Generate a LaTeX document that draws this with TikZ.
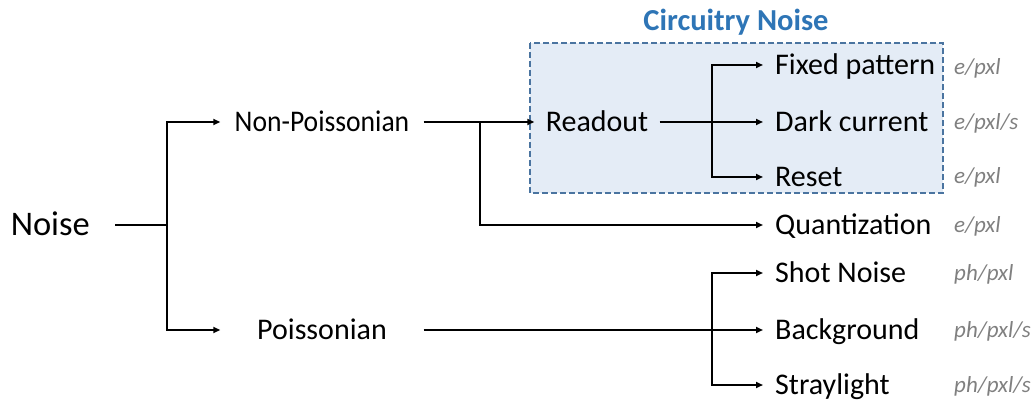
\documentclass[tikz,border=0pt]{standalone}
\usepackage{fontspec}
\setmainfont{Carlito}
\usetikzlibrary{arrows.meta}
\definecolor{boxfill}{RGB}{228,236,246}
\definecolor{boxline}{RGB}{74,116,160}
\definecolor{titleblue}{RGB}{46,117,182}
\definecolor{unitgray}{RGB}{128,128,128}
\begin{document}
\begin{tikzpicture}[x=1pt,y=-1pt,
  lbl/.style={font=\fontsize{30}{32}\selectfont, inner sep=0pt, text height=19pt, text depth=0pt},
  leaf/.style={lbl, anchor=west, inner xsep=12pt},
  unit/.style={font=\fontsize{23}{25}\selectfont\itshape, text=unitgray, anchor=west, inner sep=0pt, text height=15pt, text depth=0pt},
  conn/.style={line width=2.2pt},
  arr/.style={conn, -{Triangle[length=7pt,width=6pt]}}]
\useasboundingbox (0,0) rectangle (1033,403);
% circuitry box
\draw[boxline, dash pattern=on 6pt off 3pt, line width=2pt, fill=boxfill] (530,43) rectangle (943,193);
\node[font=\fontsize{30.5}{32}\selectfont\bfseries, text=titleblue, inner sep=0pt, text height=19.5pt, text depth=0pt] (title) at (736,21) {Circuitry Noise};
% main nodes
\node[lbl, font=\fontsize{34.5}{36}\selectfont, text height=22pt, anchor=east, inner xsep=25pt] (noise) at (115,225) {Noise};
\node[lbl, minimum width=203pt] (nonp) at (322,122) {\scalebox{0.92}[1]{Non-Poissonian}};
\node[lbl, minimum width=203pt] (pois) at (322,330) {Poissonian};
\node[lbl, minimum width=125pt] (readout) at (597,122) {Readout};
% leaves
\node[leaf] (fixed) at (763,65) {Fixed pattern};
\node[leaf] (dark) at (763,122) {Dark current};
\node[leaf] (reset) at (763,177) {Reset};
\node[leaf] (quant) at (763,225) {Quantization};
\node[leaf] (shot) at (763,273) {Shot Noise};
\node[leaf] (bg) at (763,330) {Background};
\node[leaf] (stray) at (763,385) {Straylight};
% units
\node[unit] (u1) at (954,67) {e/pxl};
\node[unit] (u2) at (954,122) {e/pxl/s};
\node[unit] (u3) at (954,176) {e/pxl};
\node[unit] (u4) at (954,225) {e/pxl};
\node[unit] (u5) at (954,273) {ph/pxl};
\node[unit] (u6) at (954,330) {ph/pxl/s};
\node[unit] (u7) at (954,385) {ph/pxl/s};
% junctions
\coordinate (j1) at (167,225);
\coordinate (j2) at (480,122);
\coordinate (j3) at (712,122);
\coordinate (j4) at (712,330);
% connectors
\draw[conn] (noise.east) -- (j1);
\draw[arr] (j1) |- (nonp.west);
\draw[arr] (j1) |- (pois.west);
\draw[arr] (nonp.east) -- (readout.west);
\draw[arr] (j2) |- (quant.west);
\draw[arr] (readout.east) -- (dark.west);
\draw[arr] (j3) |- (fixed.west);
\draw[arr] (j3) |- (reset.west);
\draw[arr] (pois.east) -- (bg.west);
\draw[arr] (j4) |- (shot.west);
\draw[arr] (j4) |- (stray.west);
\end{tikzpicture}
\end{document}
